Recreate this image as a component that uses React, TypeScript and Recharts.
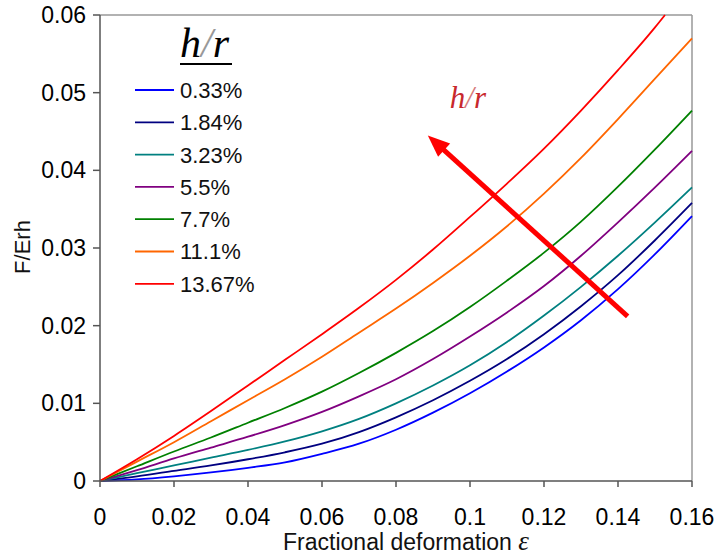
import React from 'react';
import {
  LineChart, Line, XAxis, YAxis, Legend, ReferenceLine,
} from 'recharts';

// fractional deformation (x)
const eps = [0, 0.01, 0.02, 0.03, 0.04, 0.05, 0.06, 0.07, 0.08, 0.09, 0.1, 0.11, 0.12, 0.13, 0.14, 0.15, 0.16];

// F/Erh for each h/r
const hr033 = [0, 0.0002, 0.0006, 0.0011, 0.0017, 0.0024, 0.0035, 0.0048, 0.0066, 0.0088, 0.0113, 0.0141, 0.0172, 0.0207, 0.0247, 0.0292, 0.0341];
const hr184 = [0, 0.0006, 0.0013, 0.002, 0.0028, 0.0037, 0.0048, 0.0063, 0.0082, 0.0104, 0.0129, 0.0157, 0.0189, 0.0225, 0.0265, 0.031, 0.0358];
const hr323 = [0, 0.001, 0.002, 0.003, 0.004, 0.0051, 0.0064, 0.008, 0.01, 0.0123, 0.0149, 0.0179, 0.0213, 0.025, 0.029, 0.0333, 0.0378];
const hr55 = [0, 0.0014, 0.0029, 0.0043, 0.0057, 0.0072, 0.0089, 0.0109, 0.0131, 0.0157, 0.0186, 0.0217, 0.0251, 0.029, 0.0333, 0.0378, 0.0425];
const hr77 = [0, 0.0019, 0.0038, 0.0056, 0.0075, 0.0094, 0.0115, 0.0139, 0.0165, 0.0193, 0.0224, 0.0258, 0.0294, 0.0334, 0.0379, 0.0427, 0.0477];
const hr111 = [0, 0.0025, 0.005, 0.0077, 0.0104, 0.0131, 0.016, 0.0191, 0.0222, 0.0255, 0.029, 0.0328, 0.037, 0.0416, 0.0466, 0.0518, 0.057];
// red curve leaves the plot at the top, so it stops there
const hr1367 = [0, 0.0028, 0.0058, 0.009, 0.0123, 0.0156, 0.0189, 0.0223, 0.0259, 0.0298, 0.034, 0.0383, 0.0428, 0.0477, 0.0529, 0.0584, null];
const redEndEps = 0.1527;
const redEndVal = 0.06;

const seriesNames = ['0.33%', '1.84%', '3.23%', '5.5%', '7.7%', '11.1%', '13.67%'];
const seriesColors = ['#0000ff', '#000080', '#008080', '#800080', '#008000', '#ff6600', '#ff0000'];
const seriesValues = [hr033, hr184, hr323, hr55, hr77, hr111, hr1367];

const xTicks = [0, 0.02, 0.04, 0.06, 0.08, 0.1, 0.12, 0.14, 0.16];
const yTicks = [0, 0.01, 0.02, 0.03, 0.04, 0.05, 0.06];

// arrow annotation (tail -> tip), data coords
const arrowTail = { x: 0.1426, y: 0.0212 };
const arrowTip = { x: 0.0886, y: 0.0445 };

const rows: Record<string, number | null>[] = eps.map((e, i) => {
  const r: Record<string, number | null> = { e };
  seriesValues.forEach((s, k) => { r['s' + k] = s[i]; });
  return r;
});
rows.splice(rows.length - 1, 0, { e: redEndEps, s6: redEndVal });

const FONT = '"Liberation Sans", Arial, sans-serif';
const SERIF = '"Liberation Serif", "Times New Roman", serif';

function LegendBox() {
  return (
    <svg width={170} height={290} style={{ display: 'block', overflow: 'visible' }}>
      <text x={52} y={39} fontFamily={SERIF} fontStyle="italic" fontSize={42} fill="#000">
        h<tspan fill="#999">/</tspan>r
      </text>
      <line x1={52} x2={104} y1={46} y2={46} stroke="#000" strokeWidth={2} />
      {seriesNames.map((name, i) => {
        const y = 72 + i * 32.3;
        return (
          <g key={name}>
            <line x1={7} x2={46} y1={y} y2={y} stroke={seriesColors[i]} strokeWidth={1.8} />
            <text x={52} y={y} dy="0.36em" fontFamily={FONT} fontSize={22} fill="#111">{name}</text>
          </g>
        );
      })}
    </svg>
  );
}

function ArrowShape(props: any) {
  const { x1, y1, x2, y2 } = props;
  const dx = x2 - x1;
  const dy = y2 - y1;
  const len = Math.sqrt(dx * dx + dy * dy);
  const ux = dx / len;
  const uy = dy / len;
  const headLen = 22;
  const headHalf = 9;
  const bx = x2 - ux * headLen;
  const by = y2 - uy * headLen;
  const pts = [
    `${x2},${y2}`,
    `${bx - uy * headHalf},${by + ux * headHalf}`,
    `${bx + uy * headHalf},${by - ux * headHalf}`,
  ].join(' ');
  return (
    <g>
      <line x1={x1} y1={y1} x2={bx + ux * 2} y2={by + uy * 2} stroke="#ff0000" strokeWidth={5} />
      <polygon points={pts} fill="#ff0000" />
      <text x={x2 + 22} y={y2 - 27} fontFamily={SERIF} fontStyle="italic" fontSize={31} fill="#c8282d">
        h<tspan fill="#d67a7a">/</tspan>r
      </text>
    </g>
  );
}

export default function App() {
  return (
    <div style={{ width: 717, height: 558, background: '#fff' }}>
      <style>{'body{margin:0;overflow:hidden}'}</style>
      <LineChart width={717} height={558} data={rows} margin={{ top: 15, right: 25, left: 8, bottom: 17 }}>
        <XAxis
          dataKey="e"
          type="number"
          domain={[0, 0.16]}
          ticks={xTicks}
          tickFormatter={(v: number) => String(v)}
          height={60}
          tickSize={6}
          tickMargin={22}
          stroke="#555"
          strokeWidth={1.5}
          tick={{ fontSize: 23, fill: '#000', fontFamily: FONT }}
          label={{
            content: ({ viewBox }: any) => (
              <text x={viewBox.x + viewBox.width / 2 + 10} y={550} textAnchor="middle" fontFamily={FONT} fontSize={23} fill="#111">
                Fractional deformation <tspan fontFamily={SERIF} fontStyle="italic" fontSize={27}>ε</tspan>
              </text>
            ),
          }}
        />
        <YAxis
          type="number"
          domain={[0, 0.06]}
          ticks={yTicks}
          tickFormatter={(v: number) => String(v)}
          width={92}
          tickSize={7}
          tickMargin={7}
          stroke="#555"
          strokeWidth={1.5}
          tick={{ fontSize: 23, fill: '#000', fontFamily: FONT }}
          label={{
            content: () => (
              <text x={22} y={247} transform="rotate(-90,22,247)" textAnchor="middle" dominantBaseline="central" fontFamily={FONT} fontSize={22} fill="#111">
                F/Erh
              </text>
            ),
          }}
        />
        <ReferenceLine y={0.06} stroke="#999" strokeWidth={1.5} />
        <ReferenceLine x={0.16} stroke="#999" strokeWidth={1.5} />
        {seriesNames.map((n, k) => (
          <Line
            key={n}
            type="monotone"
            dataKey={'s' + k}
            name={n}
            stroke={seriesColors[k]}
            strokeWidth={1.8}
            dot={false}
            connectNulls
            isAnimationActive={false}
          />
        ))}
        <ReferenceLine
          segment={[arrowTail, arrowTip]}
          stroke="#ff0000"
          shape={(p: any) => <ArrowShape {...p} />}
        />
        <Legend
          layout="vertical"
          align="center"
          verticalAlign="middle"
          wrapperStyle={{ left: 128, top: 18, width: 170 }}
          content={() => <LegendBox />}
        />
      </LineChart>
    </div>
  );
}
